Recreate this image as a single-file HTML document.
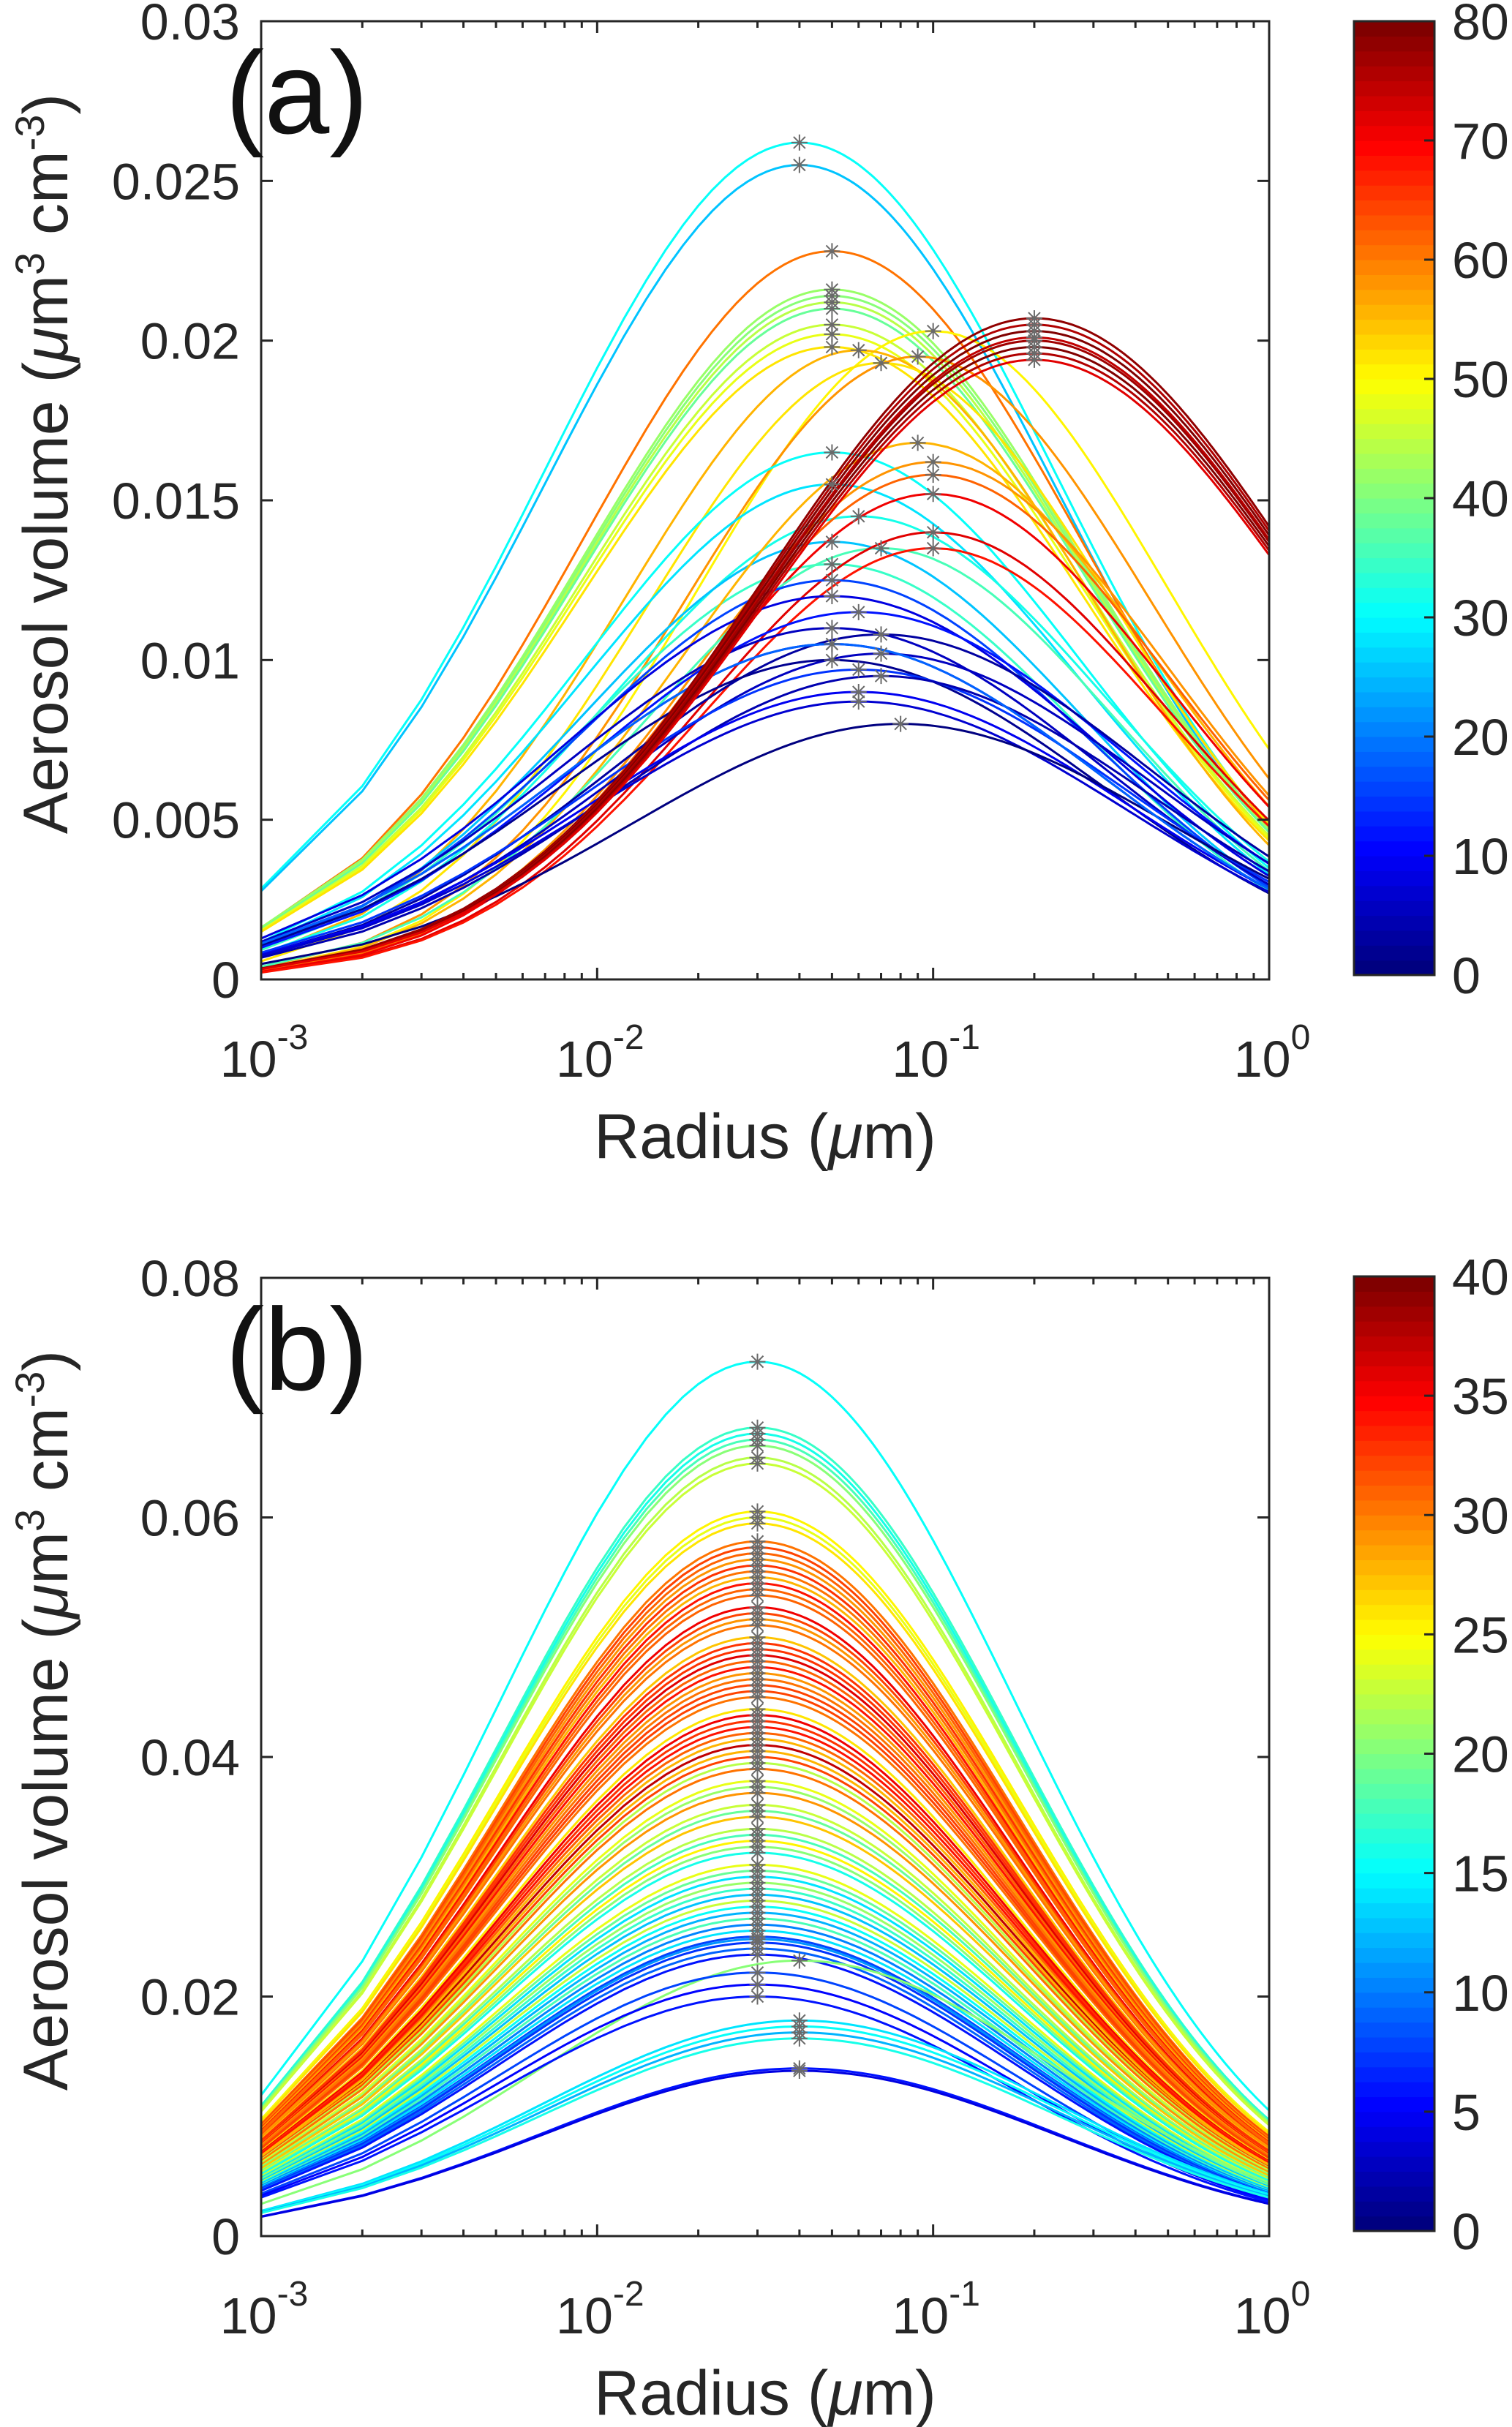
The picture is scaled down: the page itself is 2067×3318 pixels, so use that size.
<!DOCTYPE html>
<html><head><meta charset="utf-8"><style>
html,body{margin:0;padding:0;background:#fff;}
svg{display:block;}
text{font-family:"Liberation Sans",Arial,sans-serif;fill:#262626;}
</style></head><body>
<svg id="fig" width="2067" height="3318" viewBox="0 0 2067 3318" xmlns="http://www.w3.org/2000/svg"></svg>
<script>
// ---------- Panel (a) data ----------
const aRm    = [0.04,0.04,0.05,0.05,0.05,0.05,0.05,0.05,0.05,0.05,0.1,0.06,0.07,0.09,0.05,0.05,0.06,0.05,0.05,0.09,0.1,0.1,0.1,0.07,0.1,0.1,0.05,0.05,0.06,0.05,0.07,0.05,0.07,0.05,0.06,0.07,0.06,0.06,0.08,0.05,0.2,0.2,0.2,0.2,0.2,0.2,0.2,0.2];
const aPeak  = [0.0262,0.0255,0.0228,0.0216,0.0214,0.0212,0.021,0.0205,0.0202,0.0198,0.0203,0.0197,0.0193,0.0195,0.0165,0.0155,0.0145,0.0137,0.013,0.0168,0.0162,0.0158,0.0152,0.0135,0.014,0.0135,0.0125,0.012,0.0115,0.011,0.0108,0.0105,0.0102,0.01,0.0097,0.0095,0.009,0.0087,0.008,0.0105,0.0207,0.0205,0.0203,0.0201,0.02,0.0198,0.0196,0.0194];
const aSigma = [1.75,1.75,1.7,1.72,1.72,1.72,1.72,1.72,1.72,1.72,1.6,1.6,1.6,1.6,1.7,1.7,1.7,1.7,1.7,1.6,1.6,1.6,1.6,1.6,1.6,1.6,1.75,1.85,1.85,1.85,1.85,1.85,1.85,1.85,1.85,1.85,1.85,1.85,1.85,1.85,1.85,1.85,1.85,1.85,1.85,1.85,1.85,1.85];
const aColor = [30,25,60,42,40,44,38,46,48,52,50,55,52,58,30,28,32,26,34,55,58,62,70,35,72,68,15,8,12,5,3,10,6,2,14,4,9,7,1,18,78,76,80,74,77,79,75,72];
const aYTicks = [0,0.005,0.01,0.015,0.02,0.025,0.03];
const aYLabels = ["0","0.005","0.01","0.015","0.02","0.025","0.03"];
const aCbTicks = [0,10,20,30,40,50,60,70,80];

// ---------- Panel (b) data ----------
const bPeak = [0.073,0.0675,0.067,0.0665,0.066,0.065,0.0645,0.0605,0.06,0.0595,0.058,0.0575,0.057,0.0565,0.056,0.0555,0.055,0.0545,0.054,0.0525,0.052,0.051,0.05,0.049,0.0485,0.048,0.0475,0.047,0.046,0.045,0.044,0.0435,0.043,0.042,0.041,0.0405,0.04,0.0395,0.039,0.038,0.0375,0.037,0.036,0.0355,0.035,0.034,0.0335,0.033,0.0325,0.032,0.031,0.0305,0.03,0.0295,0.029,0.0285,0.028,0.0275,0.027,0.0265,0.026,0.0255,0.025,0.0248,0.0245,0.024,0.0235,0.023,0.022,0.021,0.02,0.018,0.0175,0.017,0.0165,0.014,0.0138,0.0535,0.0515,0.0495,0.0465,0.0455,0.0425,0.0415];
const bColor = [15,17,16,18,20,22,23,25,24,26,30,32,31,29,33,30,28,34,31,35,32,30,27,33,36,31,34,29,32,30,26,35,33,31,37,28,32,22,30,24,21,29,23,19,27,22,18,25,20,16,24,19,14,21,17,13,23,15,12,18,10,14,8,11,7,9,6,20,8,5,6,14,15,12,16,6,4,31,29,33,30,32,34,28];
const bRm = [0.03,0.03,0.03,0.03,0.03,0.03,0.03,0.03,0.03,0.03,0.03,0.03,0.03,0.03,0.03,0.03,0.03,0.03,0.03,0.03,0.03,0.03,0.03,0.03,0.03,0.03,0.03,0.03,0.03,0.03,0.03,0.03,0.03,0.03,0.03,0.03,0.03,0.03,0.03,0.03,0.03,0.03,0.03,0.03,0.03,0.03,0.03,0.03,0.03,0.03,0.03,0.03,0.03,0.03,0.03,0.03,0.03,0.03,0.03,0.03,0.03,0.03,0.03,0.03,0.03,0.03,0.03,0.04,0.03,0.03,0.03,0.04,0.04,0.04,0.04,0.04,0.04,0.03,0.03,0.03,0.03,0.03,0.03,0.03];
const bSigma = 1.78;
const bYTicks = [0,0.02,0.04,0.06,0.08];
const bYLabels = ["0","0.02","0.04","0.06","0.08"];
const bCbTicks = [0,5,10,15,20,25,30,35,40];

const xTickExp = [-3,-2,-1,0];

const NS = "http://www.w3.org/2000/svg";
const svg = document.getElementById('fig');
function el(tag, attrs, parent){ const e=document.createElementNS(NS,tag); for(const k in attrs) e.setAttribute(k,attrs[k]); (parent||svg).appendChild(e); return e; }

function jet(t){
  t=Math.max(0,Math.min(1,t));
  t=Math.min(63,Math.floor(t*64))/63;
  const f=v=>Math.round(255*Math.max(0,Math.min(1,v)));
  return `rgb(${f(1.5-Math.abs(4*t-3))},${f(1.5-Math.abs(4*t-2))},${f(1.5-Math.abs(4*t-1))})`;
}

const rGrid=[];
for(let k=1;k<=10;k++) rGrid.push(k*0.001);
for(let k=12;k<=100;k+=2) rGrid.push(k*0.001);
for(let k=110;k<=1000;k+=10) rGrid.push(k*0.001);

function drawPanel(P){
  const L=357,R=1735,T=P.top,B=P.bottom;
  const xs=r=>L+(Math.log10(r)+3)/3*(R-L);
  const ys=v=>B-v/P.ymax*(B-T);
  const g=el('g',{});
  
  
  const clip=el('clipPath',{id:P.name+'clip'},g);
  el('rect',{x:L,y:T,width:R-L,height:B-T},clip);
  const lines=el('g',{'clip-path':`url(#${P.name}clip)`},g);
  
  
  const n=P.peak.length;
  for(let i=0;i<n;i++){
    const rm=P.rm[i], pk=P.peak[i], s=P.sig(i);
    let d='';
    rGrid.forEach((r,j)=>{ const l=Math.log(r/rm); const v=pk*Math.exp(-l*l/(2*s*s)); d+=(j?'L':'M')+xs(r).toFixed(1)+' '+ys(v).toFixed(1); });
    const p=el('path',{d:d,fill:'none',stroke:jet(P.color[i]/P.cmax),'stroke-width':3},lines);
    
    
  }
  const stars=el('g',{stroke:'#6a6a6a','stroke-width':2},g);
  
  
  for(let i=0;i<n;i++){
    const cx=xs(P.rm[i]), cy=ys(P.peak[i]), a=11, b=8;
    el('path',{d:`M${cx-a} ${cy}H${cx+a}M${cx} ${cy-a}V${cy+a}M${cx-b} ${cy-b}L${cx+b} ${cy+b}M${cx-b} ${cy+b}L${cx+b} ${cy-b}`},stars);
  }
  const ax=el('g',{stroke:'#262626','stroke-width':3,fill:'none'},g);
  
  
  el('rect',{x:L,y:T,width:R-L,height:B-T},ax);
  for(let e=-3;e<=0;e++){
    for(let m=1;m<=9;m++){
      if(e===0&&m>1) break;
      const x=xs(m*Math.pow(10,e)); const len=m===1?16:9;
      el('line',{x1:x,y1:B,x2:x,y2:B-len},ax);
      el('line',{x1:x,y1:T,x2:x,y2:T+len},ax);
    }
  }
  xTickExp.forEach(e=>{
    const x=xs(Math.pow(10,e));
    const t=el('text',{x:x+4,y:B+133,'font-size':70,'text-anchor':'middle'},g);
    
    
    t.innerHTML=`10<tspan dy="-38" font-size="48">${e}</tspan>`;
  });
  P.yticks.forEach((v,i)=>{
    const y=ys(v);
    el('line',{x1:L,y1:y,x2:L+16,y2:y},ax);
    el('line',{x1:R,y1:y,x2:R-16,y2:y},ax);
    const t=el('text',{x:328,y:y+25,'font-size':70,'text-anchor':'end'},g);
    
    
    t.textContent=P.ylabels[i];
  });
  const xl=el('text',{x:(L+R)/2,y:B+244,'font-size':86,'text-anchor':'middle'},g);
  
  
  xl.innerHTML='Radius (<tspan font-style="italic">μ</tspan>m)';
  const yc=(T+B)/2-50;
  const yl=el('text',{x:0,y:0,'font-size':86,'text-anchor':'middle',transform:`translate(92 ${yc}) rotate(-90)`},g);
  
  
  yl.innerHTML='Aerosol volume (<tspan font-style="italic">μ</tspan>m<tspan dy="-32" font-size="56">3</tspan><tspan dy="32"> cm</tspan><tspan dy="-32" font-size="56">-3</tspan><tspan dy="32">)</tspan>';
  const pl=el('text',{x:308,y:T+153,'font-size':160,style:'fill:#111'},g);
  
  
  pl.textContent=P.label;
  const cb=el('g',{},g);
  
  
  const cx0=1851,cx1=1961,cT=P.cbTop,cB=P.cbBottom;
  for(let k=0;k<64;k++){
    const y1=cB-(k+1)/64*(cB-cT), y0=cB-k/64*(cB-cT);
    el('rect',{x:cx0,y:y1,width:cx1-cx0,height:y0-y1+0.6,fill:jet(k/63)},cb);
  }
  el('rect',{x:cx0,y:cT,width:cx1-cx0,height:cB-cT,fill:'none',stroke:'#262626','stroke-width':3},cb);
  P.cbticks.forEach(v=>{
    const y=cB-v/P.cmax*(cB-cT);
    el('line',{x1:cx1,y1:y,x2:cx1-14,y2:y,stroke:'#262626','stroke-width':3},cb);
    const t=el('text',{x:1985,y:y+25,'font-size':70},cb);
    
    
    t.textContent=v;
  });
}

drawPanel({name:'panel-a',top:29,bottom:1339,ymax:0.03,rm:aRm,peak:aPeak,sig:i=>aSigma[i],color:aColor,cmax:80,yticks:aYTicks,ylabels:aYLabels,label:'(a)',cbTop:29,cbBottom:1333,cbticks:aCbTicks});
drawPanel({name:'panel-b',top:1747,bottom:3057,ymax:0.08,rm:bRm,peak:bPeak,sig:i=>bSigma,color:bColor,cmax:40,yticks:bYTicks,ylabels:bYLabels,label:'(b)',cbTop:1745,cbBottom:3050,cbticks:bCbTicks});
</script>
</body></html>
